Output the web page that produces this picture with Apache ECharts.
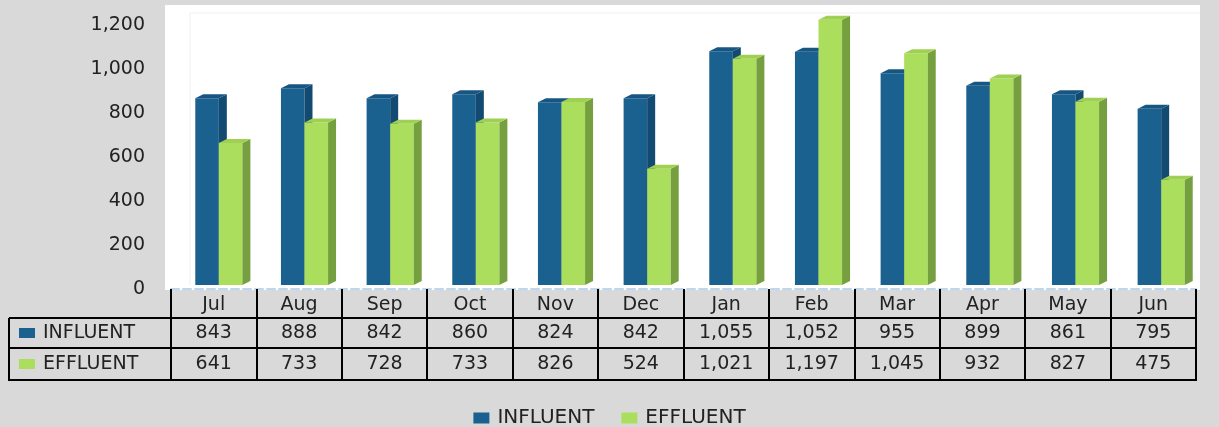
<!DOCTYPE html>
<html>
<head>
<meta charset="utf-8">
<script src="https://cdn.jsdelivr.net/npm/echarts@6/dist/echarts.min.js"></script>
<style>html,body{margin:0;padding:0;background:#d9d9d9;}#c{width:1219px;height:427px;}</style>
</head>
<body>
<div id="c"></div>
<script>
const categories = ['Jul','Aug','Sep','Oct','Nov','Dec','Jan','Feb','Mar','Apr','May','Jun'];
const influent = [843,888,842,860,824,842,1055,1052,955,899,861,795];
const effluent = [641,733,728,733,826,524,1021,1197,1045,932,827,475];
const seriesNames = ['INFLUENT','EFFLUENT'];
const yMax = 1200, yStep = 200;

const FONT = '"DejaVu Sans", sans-serif';
const TXT = '#222222';
const colors = {
  INFLUENT: {front:'#1b6190', side:'#134a72', top:'#175683'},
  EFFLUENT: {front:'#aade5c', side:'#76a040', top:'#9fd052'}
};
const fmt = v => Number(v).toLocaleString('en-US');

function makeRender(pos, c){
  return function(params, api){
    const base = api.coord([api.value(0), 0]);
    const t = api.coord([api.value(0), api.value(1)]);
    const band = api.size([1,0])[0];
    const w = band*0.275;
    const x0 = base[0] + (pos === 0 ? -w : 0);
    const yb = base[1], yt = t[1];
    const dx = 8, dy = -4;
    return {type:'group', children:[
      {type:'rect', shape:{x:x0,y:yt,width:w,height:yb-yt}, style:{fill:c.front}},
      {type:'polygon', shape:{points:[[x0+w,yt],[x0+w+dx,yt+dy],[x0+w+dx,yb+dy],[x0+w,yb]]}, style:{fill:c.side}},
      {type:'polygon', shape:{points:[[x0,yt],[x0+dx,yt+dy],[x0+w+dx,yt+dy],[x0+w,yt]]}, style:{fill:c.top}}
    ]};
  };
}

const chart = echarts.init(document.getElementById('c'), null, {renderer:'canvas'});

const tL = 9, tR = 1196, rowY = [318, 348, 380];
const graphics = [
  {type:'rect', z:-10, shape:{x:165,y:5,width:1035,height:285}, style:{fill:'#ffffff'}},
  {type:'line', z:-5, shape:{x1:190,y1:13,x2:1200,y2:13}, style:{stroke:'#f0f0f0',lineWidth:1}},
  {type:'line', z:-5, shape:{x1:190,y1:13,x2:190,y2:285}, style:{stroke:'#f0f0f0',lineWidth:1}},
  {type:'line', shape:{x1:tL,y1:318,x2:tL,y2:381}, style:{stroke:'#000',lineWidth:2}}
];
rowY.forEach(y => graphics.push({type:'line', shape:{x1:tL,y1:y,x2:tR,y2:y}, style:{stroke:'#000',lineWidth:2}}));
const rowCenters = [333, 364];
seriesNames.forEach((n, i) => {
  graphics.push({type:'rect', shape:{x:19,y:rowCenters[i]-5,width:16,height:10}, style:{fill:colors[n].front}});
  graphics.push({type:'text', x:43, y:rowCenters[i], style:{text:n, font:'19px ' + FONT, fill:TXT, textVerticalAlign:'middle'}});
});

const rows = [influent, effluent];
const margins = [44, 75];

chart.setOption({
  backgroundColor:'#d9d9d9',
  animation:false,
  textStyle:{fontFamily:FONT},
  graphic:graphics,
  grid:[
    {left:171, right:23, top:25, bottom:138},
    {left:176, right:15, top:19, bottom:142}
  ],
  xAxis:[
    {type:'category', gridIndex:0, data:categories, boundaryGap:true, position:'bottom',
     axisLine:{show:true, lineStyle:{color:'#bdd7ee', width:2, type:'dashed'}},
     axisTick:{show:true, alignWithLabel:false, length:92, lineStyle:{color:'#000', width:2}},
     axisLabel:{margin:16, verticalAlign:'middle', fontSize:19, color:TXT, fontFamily:FONT}},
    ...rows.map((r, i) => ({type:'category', gridIndex:0, data:r.map(fmt), position:'bottom',
     axisLine:{show:false}, axisTick:{show:false},
     axisLabel:{margin:margins[i], verticalAlign:'middle', fontSize:19, color:TXT, fontFamily:FONT, interval:0}})),
    {type:'category', gridIndex:1, data:categories, show:false}
  ],
  yAxis:[
    {type:'value', gridIndex:0, min:0, max:yMax, interval:yStep,
     axisLine:{show:false}, axisTick:{show:false}, splitLine:{show:false},
     axisLabel:{margin:26, fontSize:19, color:TXT, fontFamily:FONT, formatter:v => fmt(v)}},
    {type:'value', gridIndex:1, min:0, max:yMax, interval:yStep, show:false, splitLine:{show:false}}
  ],
  legend:{
    top:403, left:'center', itemWidth:16, itemHeight:11, itemGap:27, icon:'rect',
    textStyle:{fontSize:20, color:TXT, fontFamily:FONT, padding:[0,0,0,3]},
    data:seriesNames.map(n => ({name:n, itemStyle:{color:colors[n].front}}))
  },
  series:[influent, effluent].map((arr, i) => ({
    type:'custom', name:seriesNames[i], xAxisIndex:3, yAxisIndex:1,
    itemStyle:{color:colors[seriesNames[i]].front},
    renderItem:makeRender(i, colors[seriesNames[i]]),
    encode:{x:0, y:1},
    data:arr.map((v, k) => [k, v])
  }))
});
</script>
</body>
</html>
